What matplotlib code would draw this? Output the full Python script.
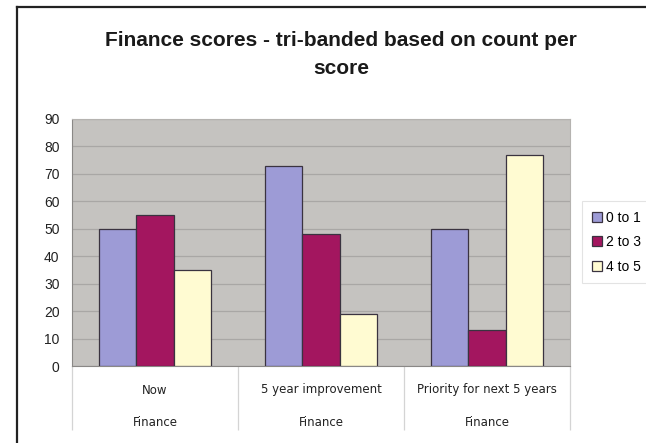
"""Finance scores bar chart, tri-banded by count per score."""

import matplotlib.pyplot as plt
import numpy as np
from matplotlib.lines import Line2D
from matplotlib.transforms import blended_transform_factory

categories = ["Now", "5 year improvement", "Priority for next 5 years"]
group_label = "Finance"
bands = ["0 to 1", "2 to 3", "4 to 5"]
band_low = [50, 73, 50]
band_mid = [55, 48, 13]
band_high = [35, 19, 77]
yticks = [0, 10, 20, 30, 40, 50, 60, 70, 80, 90]

colors = ["#9d9bd6", "#a3165f", "#fffbd2"]

plt.rcParams["font.family"] = ["Liberation Sans", "DejaVu Sans"]

W, H = 646, 443
figure = plt.figure(figsize=(W / 100, H / 100), dpi=100)
figure.patch.set_facecolor("white")

# outer chart frame (right and bottom edges run off the picture)
frame_kw = dict(color="#222222", linewidth=1.6, transform=figure.transFigure)
figure.add_artist(Line2D([17 / W, 1.0], [1 - 7 / H, 1 - 7 / H], **frame_kw))
figure.add_artist(Line2D([17 / W, 17 / W], [0.0, 1 - 7 / H], **frame_kw))

left, right, top, bottom = 72, 570, 119, 366
axis = figure.add_axes(
    [left / W, 1 - bottom / H, (right - left) / W, (bottom - top) / H]
)
axis.set_facecolor("#c5c3c0")

x = np.arange(len(categories))
width = 0.225
for offset, values, color, label in zip(
    (-width, 0, width), (band_low, band_mid, band_high), colors, bands
):
    axis.bar(
        x + offset,
        values,
        width=width,
        color=color,
        edgecolor="#3a3340",
        linewidth=0.9,
        label=label,
        zorder=3,
    )

axis.set_xlim(-0.5, len(categories) - 0.5)
axis.set_ylim(0, 90)
axis.set_yticks(yticks)
axis.tick_params(axis="y", labelsize=10, length=0, pad=9, labelcolor="#222222")
axis.set_xticks([])
axis.yaxis.grid(True, color="#a9a7a5", linewidth=0.9, zorder=1)
axis.set_axisbelow(True)
for side in ("top", "right"):
    axis.spines[side].set_color("#b5b3b0")
axis.spines["left"].set_color("#8a8886")
axis.spines["bottom"].set_color("#8a8886")

# two-level category labels with separators below the axis
blend = blended_transform_factory(axis.transData, axis.transAxes)
span = bottom - top
edges = np.arange(len(categories) + 1) - 0.5
axis.vlines(
    edges, -64 / span, 0, transform=blend, colors="#d4d4d4", linewidth=0.9,
    clip_on=False,
)
for position, name in zip(x, categories):
    axis.text(position, -24 / span, name, transform=blend, ha="center",
              va="center", fontsize=8.5, family="DejaVu Sans", color="#222222")
    axis.text(position, -56 / span, group_label, transform=blend, ha="center",
              va="center", fontsize=8.5, family="DejaVu Sans", color="#222222")

title_kw = dict(ha="center", va="center", fontsize=15, fontweight="bold",
                color="#1a1a1a")
figure.text(341 / W, 1 - 40 / H,
            "Finance scores - tri-banded based on count per", **title_kw)
figure.text(341 / W, 1 - 68 / H, "score", **title_kw)

legend = figure.legend(
    loc="upper left",
    bbox_to_anchor=(582 / W, 1 - 201 / H),
    frameon=True,
    fancybox=False,
    fontsize=10,
    handlelength=0.75,
    handleheight=0.75,
    handletextpad=0.25,
    labelspacing=0.75,
    borderpad=0.7,
    borderaxespad=0,
)
legend.get_frame().set_edgecolor("#dddddd")
legend.get_frame().set_linewidth(0.8)

figure.savefig("out.png", dpi=100)
